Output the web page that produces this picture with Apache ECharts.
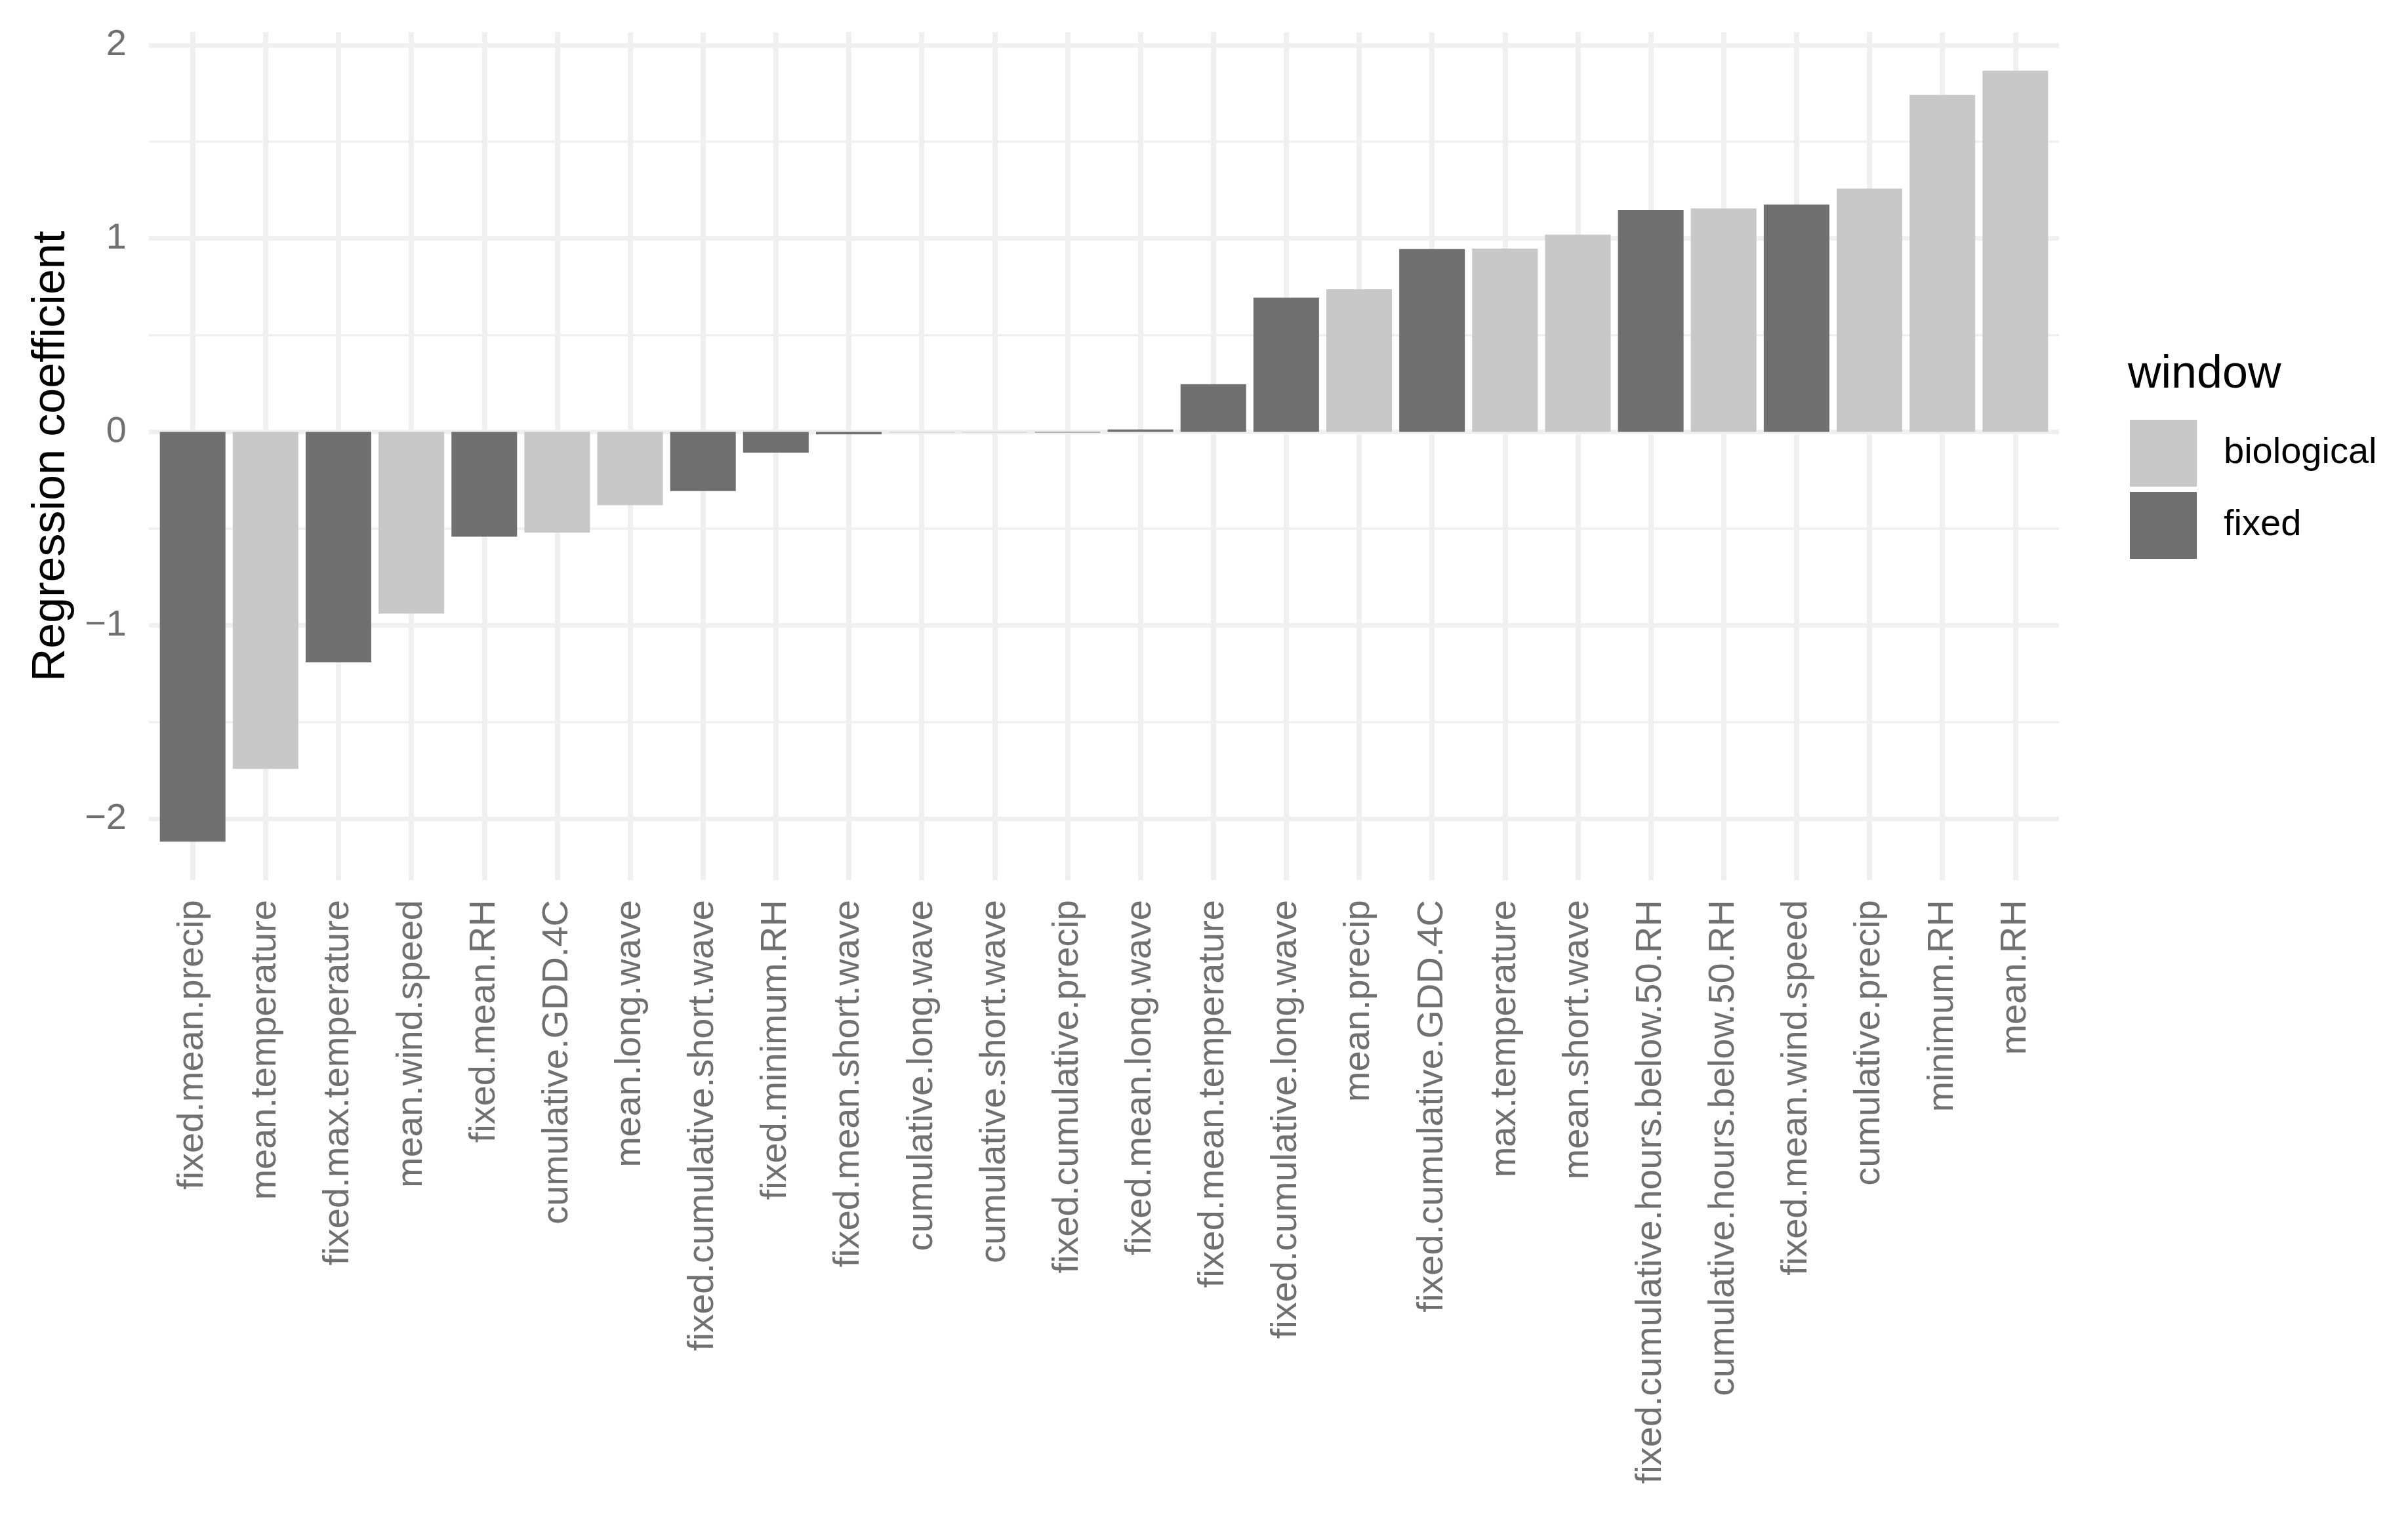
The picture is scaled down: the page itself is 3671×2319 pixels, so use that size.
<!DOCTYPE html>
<html>
<head>
<meta charset="utf-8">
<script src="https://cdn.jsdelivr.net/npm/echarts@6/dist/echarts.min.js"></script>
<style>
  html, body { margin: 0; padding: 0; background: #ffffff; }
  #chart { width: 3671px; height: 2319px; }
</style>
</head>
<body>
<div id="chart"></div>
<script>
const categories = [
  'fixed.mean.precip', 'mean.temperature', 'fixed.max.temperature', 'mean.wind.speed',
  'fixed.mean.RH', 'cumulative.GDD.4C', 'mean.long.wave', 'fixed.cumulative.short.wave',
  'fixed.minimum.RH', 'fixed.mean.short.wave', 'cumulative.long.wave', 'cumulative.short.wave',
  'fixed.cumulative.precip', 'fixed.mean.long.wave', 'fixed.mean.temperature',
  'fixed.cumulative.long.wave', 'mean.precip', 'fixed.cumulative.GDD.4C', 'max.temperature',
  'mean.short.wave', 'fixed.cumulative.hours.below.50.RH', 'cumulative.hours.below.50.RH',
  'fixed.mean.wind.speed', 'cumulative.precip', 'minimum.RH', 'mean.RH'
];
const coefficients = [
  -2.119, -1.742, -1.191, -0.939,
  -0.542, -0.521, -0.379, -0.306,
  -0.108, -0.013, -0.003, -0.003,
  -0.003, 0.013, 0.247,
  0.694, 0.738, 0.945, 0.948,
  1.020, 1.148, 1.156,
  1.176, 1.258, 1.742, 1.868
];
const windows = [
  'fixed', 'biological', 'fixed', 'biological',
  'fixed', 'biological', 'biological', 'fixed',
  'fixed', 'fixed', 'biological', 'biological',
  'fixed', 'fixed', 'fixed',
  'fixed', 'biological', 'fixed', 'biological',
  'biological', 'fixed', 'biological',
  'fixed', 'biological', 'biological', 'biological'
];
const windowLevels = ['biological', 'fixed'];
const yMajorTicks = [-2, -1, 0, 1, 2];
const yMinorTicks = [-1.5, -0.5, 0.5, 1.5];

const windowColors = { biological: '#c8c8c8', fixed: '#707070' };
const gridColor = '#f0f0f0';
const labelColor = '#707070';
const fontFamily = '"Liberation Sans", Arial, Helvetica, sans-serif';

// ggplot-style expansion of the continuous y scale (5% each side)
const dataMin = Math.min(...coefficients);
const dataMax = Math.max(...coefficients);
const pad = (dataMax - dataMin) * 0.05;

const categoryIndex = categories.map((_, i) => i);

const barSeries = windowLevels.map(level => ({
  type: 'bar',
  name: level,
  z: 5,
  barWidth: '90%',
  barGap: '-100%',
  itemStyle: { color: windowColors[level] },
  animation: false,
  data: categoryIndex.filter(i => windows[i] === level).map(i => [i, coefficients[i]])
}));

const gridLines = []
  .concat(categoryIndex.map(i => ({ xAxis: i, lineStyle: { color: gridColor, width: 8, type: 'solid' } })))
  .concat(yMinorTicks.map(v => ({ yAxis: v, lineStyle: { color: gridColor, width: 3.5, type: 'solid' } })))
  .concat(yMajorTicks.map(v => ({ yAxis: v, lineStyle: { color: gridColor, width: 7, type: 'solid' } })));

const chart = echarts.init(document.getElementById('chart'), null, { renderer: 'canvas' });
chart.setOption({
  backgroundColor: '#ffffff',
  animation: false,
  textStyle: { fontFamily: fontFamily },
  title: {
    text: 'window',
    left: 3244,
    top: 537,
    padding: 0,
    textStyle: { fontFamily: fontFamily, fontSize: 70, fontWeight: 'normal', color: '#000000' }
  },
  legend: {
    data: windowLevels,
    orient: 'vertical',
    left: 3247,
    top: 640,
    padding: 0,
    itemWidth: 102,
    itemHeight: 102,
    itemGap: 8,
    icon: 'rect',
    selectedMode: false,
    textStyle: { fontFamily: fontFamily, fontSize: 56, color: '#000000', padding: [0, 0, 0, 36] }
  },
  grid: { left: 227, right: 532, top: 49, bottom: 977, containLabel: false },
  xAxis: {
    type: 'value',
    min: -0.6,
    max: 25.6,
    axisLine: { show: false },
    axisTick: { show: false },
    splitLine: { show: false },
    axisLabel: {
      customValues: categoryIndex,
      formatter: v => categories[Math.round(v)],
      rotate: 90,
      margin: 30,
      fontSize: 56,
      color: labelColor,
      fontFamily: fontFamily,
      hideOverlap: false
    }
  },
  yAxis: {
    type: 'value',
    min: +(dataMin - pad).toFixed(3),
    max: +(dataMax + pad).toFixed(3),
    name: 'Regression coefficient',
    nameLocation: 'middle',
    nameGap: 113,
    nameTextStyle: { fontFamily: fontFamily, fontSize: 70, color: '#000000' },
    axisLine: { show: false },
    axisTick: { show: false },
    splitLine: { show: false },
    axisLabel: {
      customValues: yMajorTicks,
      formatter: v => (v < 0 ? '\u2212' + Math.abs(v) : String(v)),
      margin: 34,
      fontSize: 56,
      color: labelColor,
      fontFamily: fontFamily
    }
  },
  series: [
    {
      type: 'line',
      name: 'gridlines',
      data: [],
      silent: true,
      z: 0,
      markLine: {
        silent: true,
        z: 1,
        symbol: ['none', 'none'],
        animation: false,
        label: { show: false },
        emphasis: { disabled: true },
        data: gridLines
      }
    }
  ].concat(barSeries)
});
</script>
</body>
</html>
